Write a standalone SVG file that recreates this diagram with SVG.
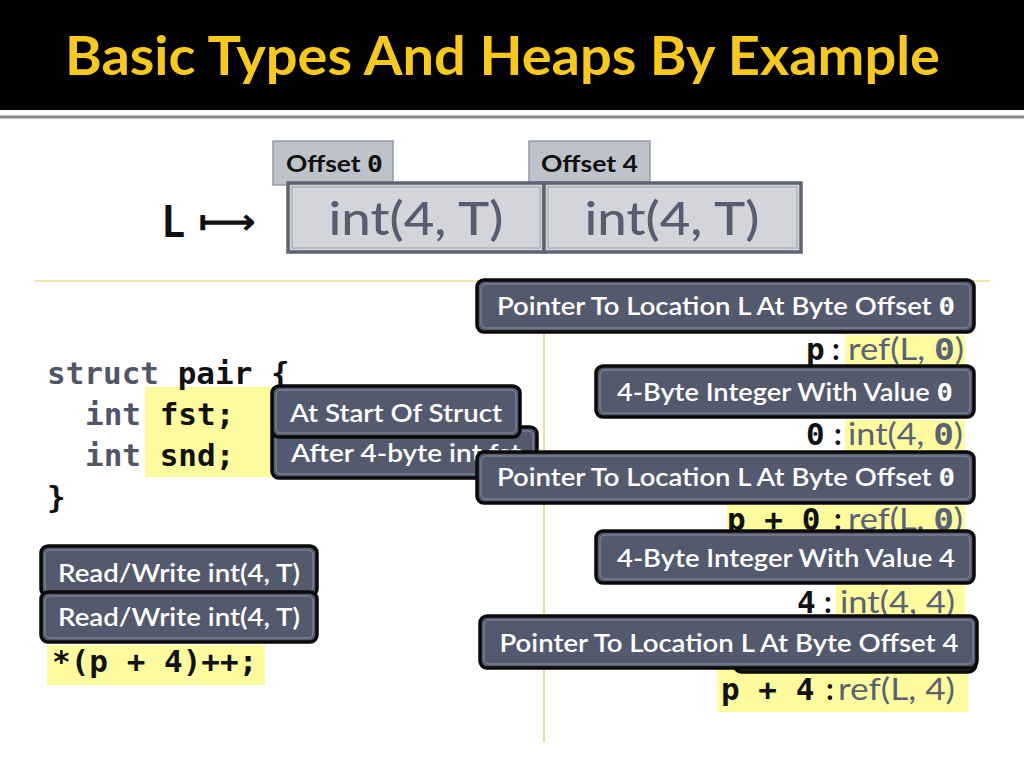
<svg xmlns="http://www.w3.org/2000/svg" width="1024" height="768" viewBox="0 0 1024 768">
<style>
.title{font-family:Lato,"Open Sans",sans-serif;font-weight:bold;font-size:53px;fill:#F7C81E}
.off{font-family:Lato,"Open Sans",sans-serif;font-weight:bold;font-size:23px;fill:#111}
.offbox{fill:#BEC2CB;stroke:#9499A6;stroke-width:1.5}
.cell{fill:#D3D5DA;stroke:#5E6474;stroke-width:3.5}
.cellin{fill:none;stroke:#9CA1AD;stroke-width:1}
.celltxt{font-family:Lato,"Open Sans",sans-serif;font-size:46px;fill:#565D71;font-weight:500}
.co{fill:#535A6E;stroke:#0A0A0A;stroke-width:3.5}
.coin{fill:none;stroke:#8A90A0;stroke-width:1}
.cot{font-family:Lato,"Open Sans",sans-serif;font-size:24px;fill:#FFFFFF;font-weight:600}
.mono{font-family:"DejaVu Sans Mono","Liberation Mono",monospace;font-weight:bold;font-size:31px;fill:#111}
.z{font-family:"DejaVu Sans Mono","Liberation Mono",monospace;font-weight:bold}
.mg{fill:#505668}
.hl{fill:#FEFB9E}
.sans{font-family:Lato,"Open Sans",sans-serif;font-size:30px;fill:#5B6276}
.colon{font-family:Lato,"Open Sans",sans-serif;font-weight:bold;font-size:30px;fill:#111}
</style>

<rect x="0" y="0" width="1024" height="110" fill="#000"/>
<line x1="0" y1="117" x2="1024" y2="117" stroke="#8A8A8A" stroke-width="3"/>
<text class="title" x="65" y="75" textLength="875" lengthAdjust="spacingAndGlyphs">Basic Types And Heaps By Example</text>

<g id="label-L">
<text x="162" y="237" font-family="Lato,'Open Sans',sans-serif" font-size="43" font-weight="bold" fill="#111">L</text>
<text x="198" y="234" font-family="'DejaVu Sans',sans-serif" font-weight="bold" font-size="36" fill="#111" textLength="58" lengthAdjust="spacingAndGlyphs">⟼</text>
</g>

<g id="offset0">
<rect class="offbox" x="273" y="141" width="120" height="44"/>
<text class="off" x="286" y="172" textLength="97" lengthAdjust="spacingAndGlyphs">Offset <tspan class="z">0</tspan></text>
</g>
<g id="offset4">
<rect class="offbox" x="529" y="141" width="121" height="41"/>
<text class="off" x="541" y="172" textLength="97" lengthAdjust="spacingAndGlyphs">Offset 4</text>
</g>
<g id="cell0">
<rect class="cell" x="288" y="183" width="256" height="69"/>
<rect class="cellin" x="292" y="187" width="248" height="61"/>
<text class="celltxt" x="416" y="235" text-anchor="middle" textLength="175" lengthAdjust="spacingAndGlyphs">int(4, T)</text>
</g>
<g id="cell4">
<rect class="cell" x="544" y="183" width="257" height="69"/>
<rect class="cellin" x="548" y="187" width="249" height="61"/>
<text class="celltxt" x="672" y="235" text-anchor="middle" textLength="175" lengthAdjust="spacingAndGlyphs">int(4, T)</text>
</g>

<g id="dividers" stroke="#E6C65A" stroke-width="1.2">
<line x1="35" y1="281" x2="990" y2="281"/>
<line x1="544" y1="281" x2="544" y2="742"/>
</g>

<g id="code">
<rect class="hl" x="145" y="387" width="127" height="90"/>
<text class="mono" x="47" y="384"><tspan class="mg">struct</tspan> pair {</text>
<text class="mono" x="85" y="425"><tspan class="mg">int</tspan> fst;</text>
<text class="mono" x="85" y="466"><tspan class="mg">int</tspan> snd;</text>
<text class="mono" x="47" y="508">}</text>
<rect class="hl" x="47" y="645" width="218" height="40"/>
<text class="mono" x="52" y="672">*(p + 4)++;</text>
</g>

<g id="values">
<rect class="hl" x="845" y="335" width="120" height="33"/>
<text class="mono" x="806" y="360">p</text>
<text class="colon" x="832" y="360">:</text>
<text class="sans" x="848" y="360" textLength="116" lengthAdjust="spacingAndGlyphs">ref(L, <tspan class="z">0</tspan>)</text>

<rect class="hl" x="845" y="420" width="120" height="32"/>
<text class="mono" x="806" y="445">0</text>
<text class="colon" x="834" y="445">:</text>
<text class="sans" x="848" y="445" textLength="115" lengthAdjust="spacingAndGlyphs">int(4, <tspan class="z">0</tspan>)</text>

<rect class="hl" x="727" y="505" width="238" height="30"/>
<text class="mono" x="727" y="530">p + 0</text>
<text class="colon" x="834" y="530">:</text>
<text class="sans" x="848" y="530" textLength="115" lengthAdjust="spacingAndGlyphs">ref(L, <tspan class="z">0</tspan>)</text>

<rect class="hl" x="836" y="585" width="129" height="35"/>
<text class="mono" x="797" y="613">4</text>
<text class="colon" x="824" y="613">:</text>
<text class="sans" x="840" y="613" textLength="115" lengthAdjust="spacingAndGlyphs">int(4, 4)</text>

<rect class="hl" x="717" y="668" width="251" height="44"/>
<text class="mono" x="721" y="700">p + 4</text>
<text class="colon" x="826" y="700">:</text>
<text class="sans" x="838" y="700" textLength="117" lengthAdjust="spacingAndGlyphs">ref(L, 4)</text>
</g>

<g id="callout-after">
<rect class="co" x="272" y="427" width="265" height="51" rx="7"/>
<rect class="coin" x="276" y="431" width="257" height="43" rx="5"/>
<text class="cot" x="291" y="462" textLength="230" lengthAdjust="spacingAndGlyphs">After 4-byte int fst</text>
</g>
<g id="callout-start">
<rect class="co" x="272" y="386" width="248" height="51" rx="7"/>
<rect class="coin" x="276" y="390" width="240" height="43" rx="5"/>
<text class="cot" x="396" y="422" text-anchor="middle" textLength="212" lengthAdjust="spacingAndGlyphs">At Start Of Struct</text>
</g>
<g id="callout-ptr0a">
<rect class="co" x="477" y="280" width="497" height="52" rx="7"/>
<rect class="coin" x="481" y="284" width="489" height="44" rx="5"/>
<text class="cot" x="726" y="315" text-anchor="middle" textLength="458" lengthAdjust="spacingAndGlyphs">Pointer To Location L At Byte Offset <tspan class="z">0</tspan></text>
</g>
<g id="callout-int0">
<rect class="co" x="596" y="366" width="378" height="51" rx="7"/>
<rect class="coin" x="600" y="370" width="370" height="43" rx="5"/>
<text class="cot" x="785" y="401" text-anchor="middle" textLength="336" lengthAdjust="spacingAndGlyphs">4-Byte Integer With Value <tspan class="z">0</tspan></text>
</g>
<g id="callout-ptr0b">
<rect class="co" x="477" y="452" width="497" height="51" rx="7"/>
<rect class="coin" x="481" y="456" width="489" height="43" rx="5"/>
<text class="cot" x="726" y="486" text-anchor="middle" textLength="458" lengthAdjust="spacingAndGlyphs">Pointer To Location L At Byte Offset <tspan class="z">0</tspan></text>
</g>
<g id="callout-int4">
<rect class="co" x="596" y="531" width="378" height="52" rx="7"/>
<rect class="coin" x="600" y="535" width="370" height="44" rx="5"/>
<text class="cot" x="786" y="567" text-anchor="middle" textLength="338" lengthAdjust="spacingAndGlyphs">4-Byte Integer With Value 4</text>
</g>
<g id="callout-hidden">
<rect class="co" x="734" y="630" width="242" height="42" rx="8"/>
</g>
<g id="callout-ptr4">
<rect class="co" x="480" y="616" width="497" height="52" rx="7"/>
<rect class="coin" x="484" y="620" width="489" height="44" rx="5"/>
<text class="cot" x="729" y="652" text-anchor="middle" textLength="459" lengthAdjust="spacingAndGlyphs">Pointer To Location L At Byte Offset 4</text>
</g>
<g id="callout-rw1">
<rect class="co" x="41" y="546" width="276" height="50" rx="7"/>
<rect class="coin" x="45" y="550" width="268" height="42" rx="5"/>
<text class="cot" x="179" y="582" text-anchor="middle" textLength="242" lengthAdjust="spacingAndGlyphs">Read/Write int(4, T)</text>
</g>
<g id="callout-rw2">
<rect class="co" x="41" y="592" width="276" height="50" rx="7"/>
<rect class="coin" x="45" y="596" width="268" height="42" rx="5"/>
<text class="cot" x="179" y="626" text-anchor="middle" textLength="242" lengthAdjust="spacingAndGlyphs">Read/Write int(4, T)</text>
</g>
</svg>
